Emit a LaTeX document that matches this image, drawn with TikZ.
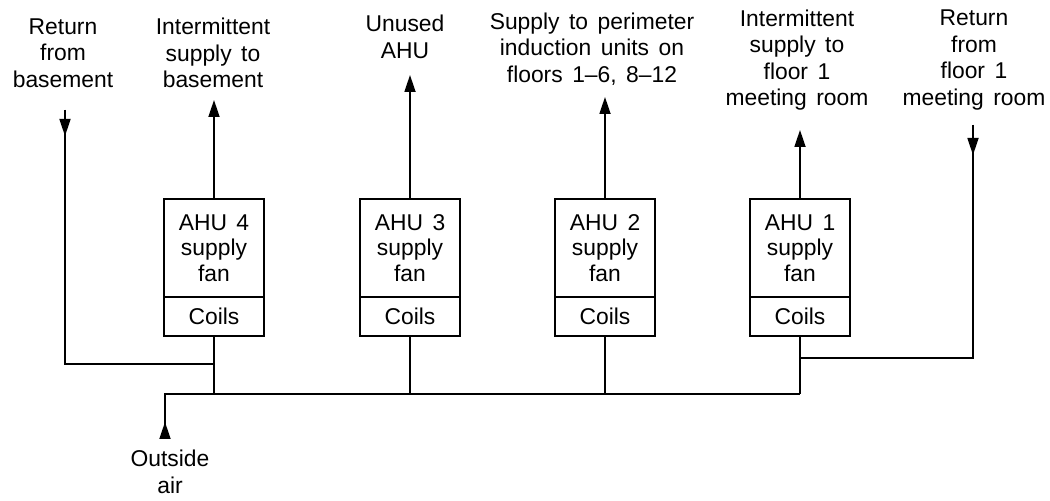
\documentclass[tikz,border=0pt]{standalone}
\usepackage{fontspec}
\setmainfont[WordSpace=1.5]{Liberation Sans}
\usetikzlibrary{arrows.meta,positioning}

\begin{document}
\begin{tikzpicture}[
  fan/.style={draw,line width=1pt,minimum width=2.0cm,minimum height=1.96cm,
              outer sep=0pt,align=center,font=\fontsize{13}{14.5}\selectfont},
  coil/.style={draw,line width=1pt,minimum width=2.0cm,minimum height=0.78cm,
               outer sep=0pt,font=\fontsize{13}{14.5}\selectfont},
  lbl/.style={align=center,font=\fontsize{13}{15}\selectfont},
  duct/.style={line width=1pt},
  flow/.style={line width=1pt,-{Triangle[length=3.4mm,width=2.2mm]}}
]
\useasboundingbox (0,0) rectangle (21,10.02);

% air handling units
\node[fan] (fan4) at (4.28,5.06)  {AHU 4\\supply\\fan};
\node[fan] (fan3) at (8.20,5.06)  {AHU 3\\supply\\fan};
\node[fan] (fan2) at (12.10,5.06) {AHU 2\\supply\\fan};
\node[fan] (fan1) at (16.00,5.06) {AHU 1\\supply\\fan};
\node[coil,below=0pt of fan4] (coil4) {Coils};
\node[coil,below=0pt of fan3] (coil3) {Coils};
\node[coil,below=0pt of fan2] (coil2) {Coils};
\node[coil,below=0pt of fan1] (coil1) {Coils};

% labels
\node[lbl] (retB) at (1.26,8.96)  {Return\\from\\basement};
\node[lbl] (supB) at (4.26,8.96)  {Intermittent\\supply to\\basement};
\node[lbl] (unused) at (8.10,9.28) {Unused\\AHU};
\node[lbl] (supP) at (11.84,9.04) {Supply to perimeter\\induction units on\\floors 1--6, 8--12};
\node[lbl] (supM) at (15.94,8.82) {Intermittent\\supply to\\floor 1\\meeting room};
\node[lbl] (retM) at (19.48,8.82) {Return\\from\\floor 1\\meeting room};
\node[lbl] (outside) at (3.40,0.58) {Outside\\air};

% free ends
\coordinate (tip4) at (4.28,8.02);
\coordinate (tip3) at (8.20,8.52);
\coordinate (tip2) at (12.10,8.08);
\coordinate (tip1) at (16.00,7.42);
\coordinate (retBtop) at (1.30,7.82);
\coordinate (retBtip) at (1.30,7.30);
\coordinate (retMtop) at (19.46,7.52);
\coordinate (retMtip) at (19.46,6.92);
\coordinate (oaBot) at (3.30,1.26);
\coordinate (oaTip) at (3.30,1.58);
\coordinate (busL) at (3.30,2.14);
\coordinate (busR) at (16.00,2.14);
\coordinate (j4) at (4.28,2.74);
\coordinate (j1) at (16.00,2.86);

% supply
\draw[flow] (fan4) -- (tip4);
\draw[flow] (fan3) -- (tip3);
\draw[flow] (fan2) -- (tip2);
\draw[flow] (fan1) -- (tip1);

% returns
\draw[flow] (retBtop) -- (retBtip);
\draw[duct] (retBtop) |- (j4);
\draw[flow] (retMtop) -- (retMtip);
\draw[duct] (retMtop) |- (j1);

% outside air and mixing duct
\draw[flow] (oaBot) -- (oaTip);
\draw[duct] (oaBot) -- (busL) -- (busR);
\draw[duct] (coil4) -- (coil4 |- busL);
\draw[duct] (coil3) -- (coil3 |- busL);
\draw[duct] (coil2) -- (coil2 |- busL);
\draw[duct] (coil1) -- (coil1 |- busL);
\end{tikzpicture}
\end{document}
